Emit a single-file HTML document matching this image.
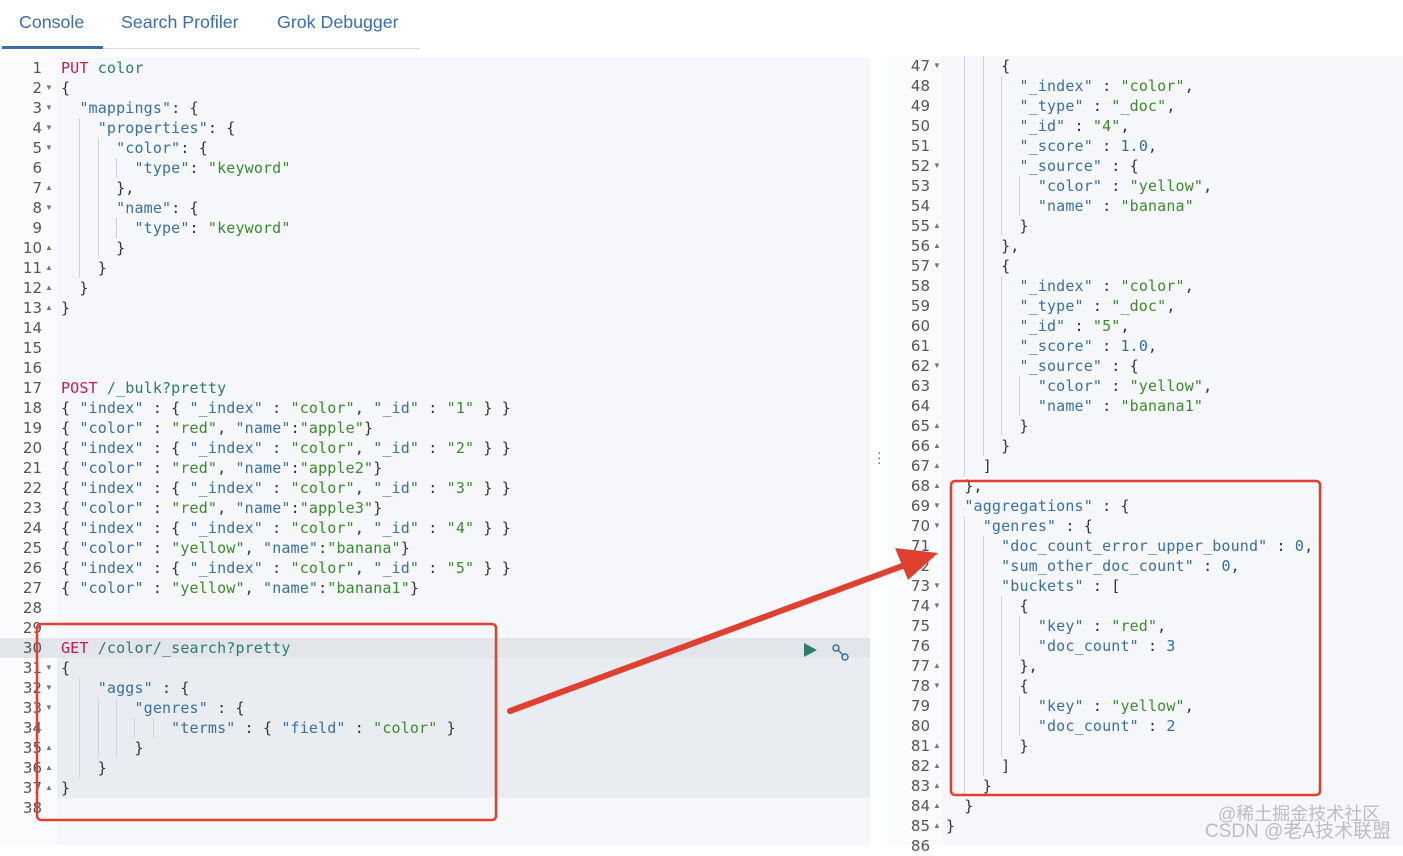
<!DOCTYPE html>
<html><head><meta charset="utf-8"><style>
body{margin:0;width:1403px;height:845px;overflow:hidden;background:#fff;font-family:"Liberation Sans",sans-serif;position:relative}
.tab{position:absolute;top:12px;font-size:17.8px;color:#3a6ea5}
.ln{position:absolute;height:20px;line-height:20px;font-family:"DejaVu Sans Mono","Liberation Mono",monospace;font-size:15px;white-space:pre;color:#333;letter-spacing:0.15px}
.num{position:absolute;height:20px;line-height:20px;font-family:"DejaVu Sans",sans-serif;font-size:15px;color:#555;text-align:right;width:40px}
.fold{position:absolute;font-size:8px;color:#777;height:20px;line-height:20px}
.g{position:absolute;width:1px;background:#d0d4da;height:20px}
.m{color:#c2185b}.p{color:#2d7d6a}.k{color:#3a70a0}.s{color:#3c8a2e}.n{color:#2f6ea0}
</style></head><body>
<div class="tab" style="left:19px">Console</div>
<div class="tab" style="left:121px">Search Profiler</div>
<div class="tab" style="left:277px">Grok Debugger</div>
<div style="position:absolute;left:0;top:48px;width:420px;height:1px;background:#d8dce2"></div>
<div style="position:absolute;left:2px;top:46px;width:101px;height:3px;background:#3a6ea5"></div>
<div style="position:absolute;left:0;top:58px;width:57px;height:787px;background:#fafbfc"></div>
<div style="position:absolute;left:57px;top:58px;width:813px;height:787px;background:#f5f7fa"></div>
<div style="position:absolute;left:57px;top:658px;width:813px;height:140px;background:#e9ecf0"></div>
<div style="position:absolute;left:0;top:638px;width:870px;height:20px;background:#e2e5ea"></div>
<div style="position:absolute;left:887px;top:56px;width:55px;height:789px;background:#fafbfc"></div>
<div style="position:absolute;left:942px;top:56px;width:461px;height:789px;background:#f5f7fa"></div>
<div style="position:absolute;left:877px;top:450px;color:#666;font-size:14px;line-height:5px">·<br>·<br>·</div>
<div id="ed"></div>
<svg style="position:absolute;left:0;top:0" width="1403" height="845">
<polygon points="804,643 804,657 817,650" fill="#2d7d6a"/>
<g stroke="#3a70a0" stroke-width="1.5" fill="none"><circle cx="836" cy="648" r="3"/><circle cx="845" cy="657" r="3"/><line x1="838" y1="650" x2="843" y2="655"/></g>
<rect x="37" y="624" width="459" height="196" rx="4" fill="none" stroke="#e0402f" stroke-width="2.5"/>
<rect x="951" y="481" width="369" height="314" rx="4" fill="none" stroke="#e0402f" stroke-width="2.5"/>
<line x1="510" y1="711" x2="905" y2="565" stroke="#e0402f" stroke-width="6" stroke-linecap="round"/>
<polygon points="938,553 895,548 908,580" fill="#e0402f"/>
</svg>
<div style="position:absolute;left:1218px;top:800px;font-size:18px;color:rgba(150,150,150,.6);font-family:'Liberation Sans','Noto Sans CJK SC',sans-serif">@稀土掘金技术社区</div>
<div style="position:absolute;left:1205px;top:816px;font-size:19px;color:rgba(150,150,150,.6);font-family:'Liberation Sans','Noto Sans CJK SC',sans-serif">CSDN @老A技术联盟</div>
<script>
var L=[
["PUT color",""],["{","d"],['  "mappings": {',"d"],['    "properties": {',"d"],['      "color": {',"d"],['        "type": "keyword"',""],['      },',"u"],['      "name": {',"d"],['        "type": "keyword"',""],['      }',"u"],['    }',"u"],['  }',"u"],['}',"u"],["",""],["",""],["",""],
["POST /_bulk?pretty",""],
['{ "index" : { "_index" : "color", "_id" : "1" } }',""],['{ "color" : "red", "name":"apple"}',""],
['{ "index" : { "_index" : "color", "_id" : "2" } }',""],['{ "color" : "red", "name":"apple2"}',""],
['{ "index" : { "_index" : "color", "_id" : "3" } }',""],['{ "color" : "red", "name":"apple3"}',""],
['{ "index" : { "_index" : "color", "_id" : "4" } }',""],['{ "color" : "yellow", "name":"banana"}',""],
['{ "index" : { "_index" : "color", "_id" : "5" } }',""],['{ "color" : "yellow", "name":"banana1"}',""],
["",""],["",""],["GET /color/_search?pretty",""],["{","d"],['    "aggs" : {',"d"],['        "genres" : {',"d"],['            "terms" : { "field" : "color" }',""],['        }',"u"],['    }',"u"],['}',"u"],["",""]];
var R=[
['      {',"d"],['        "_index" : "color",',""],['        "_type" : "_doc",',""],['        "_id" : "4",',""],['        "_score" : 1.0,',""],['        "_source" : {',"d"],['          "color" : "yellow",',""],['          "name" : "banana"',""],['        }',"u"],['      },',"u"],
['      {',"d"],['        "_index" : "color",',""],['        "_type" : "_doc",',""],['        "_id" : "5",',""],['        "_score" : 1.0,',""],['        "_source" : {',"d"],['          "color" : "yellow",',""],['          "name" : "banana1"',""],['        }',"u"],['      }',"u"],
['    ]',"u"],['  },',"u"],['  "aggregations" : {',"d"],['    "genres" : {',"d"],['      "doc_count_error_upper_bound" : 0,',""],['      "sum_other_doc_count" : 0,',""],['      "buckets" : [',"d"],['        {',"d"],['          "key" : "red",',""],['          "doc_count" : 3',""],['        },',"u"],['        {',"d"],['          "key" : "yellow",',""],['          "doc_count" : 2',""],['        }',"u"],['      ]',"u"],['    }',"u"],['  }',"u"],['}',"u"],["",""]];
function esc(s){return s.replace(/&/g,"&amp;").replace(/</g,"&lt;")}
function hl(t){
 var m=t.match(/^(PUT|POST|GET) (.*)$/);
 if(m)return '<span class="m">'+m[1]+'</span> <span class="p">'+esc(m[2])+'</span>';
 return esc(t).replace(/("[^"]*")(\s*:)?|(\b\d+(\.\d+)?\b)/g,function(a,s,c,n){
  if(s)return c?'<span class="k">'+s+'</span>'+c:'<span class="s">'+s+'</span>';
  return '<span class="n">'+n+'</span>';});
}
var h="";
function draw(arr,start,top,base,gx){
 arr.forEach(function(r,i){
  var y=top+i*20,t=r[0];
  h+='<div class="num" style="left:'+gx+'px;top:'+y+'px">'+(start+i)+'</div>';
  if(r[1])h+='<div class="fold" style="left:'+(gx+43)+'px;top:'+y+'px">'+(r[1]=="d"?"▼":"▲")+'</div>';
  var sp=t.match(/^ */)[0].length,lv=Math.floor(sp/2);
  for(var k=1;k<lv;k++)h+='<div class="g" style="left:'+(base+18.3*k)+'px;top:'+y+'px"></div>';
  h+='<div class="ln" style="left:'+base+'px;top:'+y+'px">'+hl(t)+'</div>';
 });
}
draw(L,1,58,61,2);
draw(R,47,56,946,890);
document.getElementById("ed").innerHTML=h;
</script>
</body></html>
